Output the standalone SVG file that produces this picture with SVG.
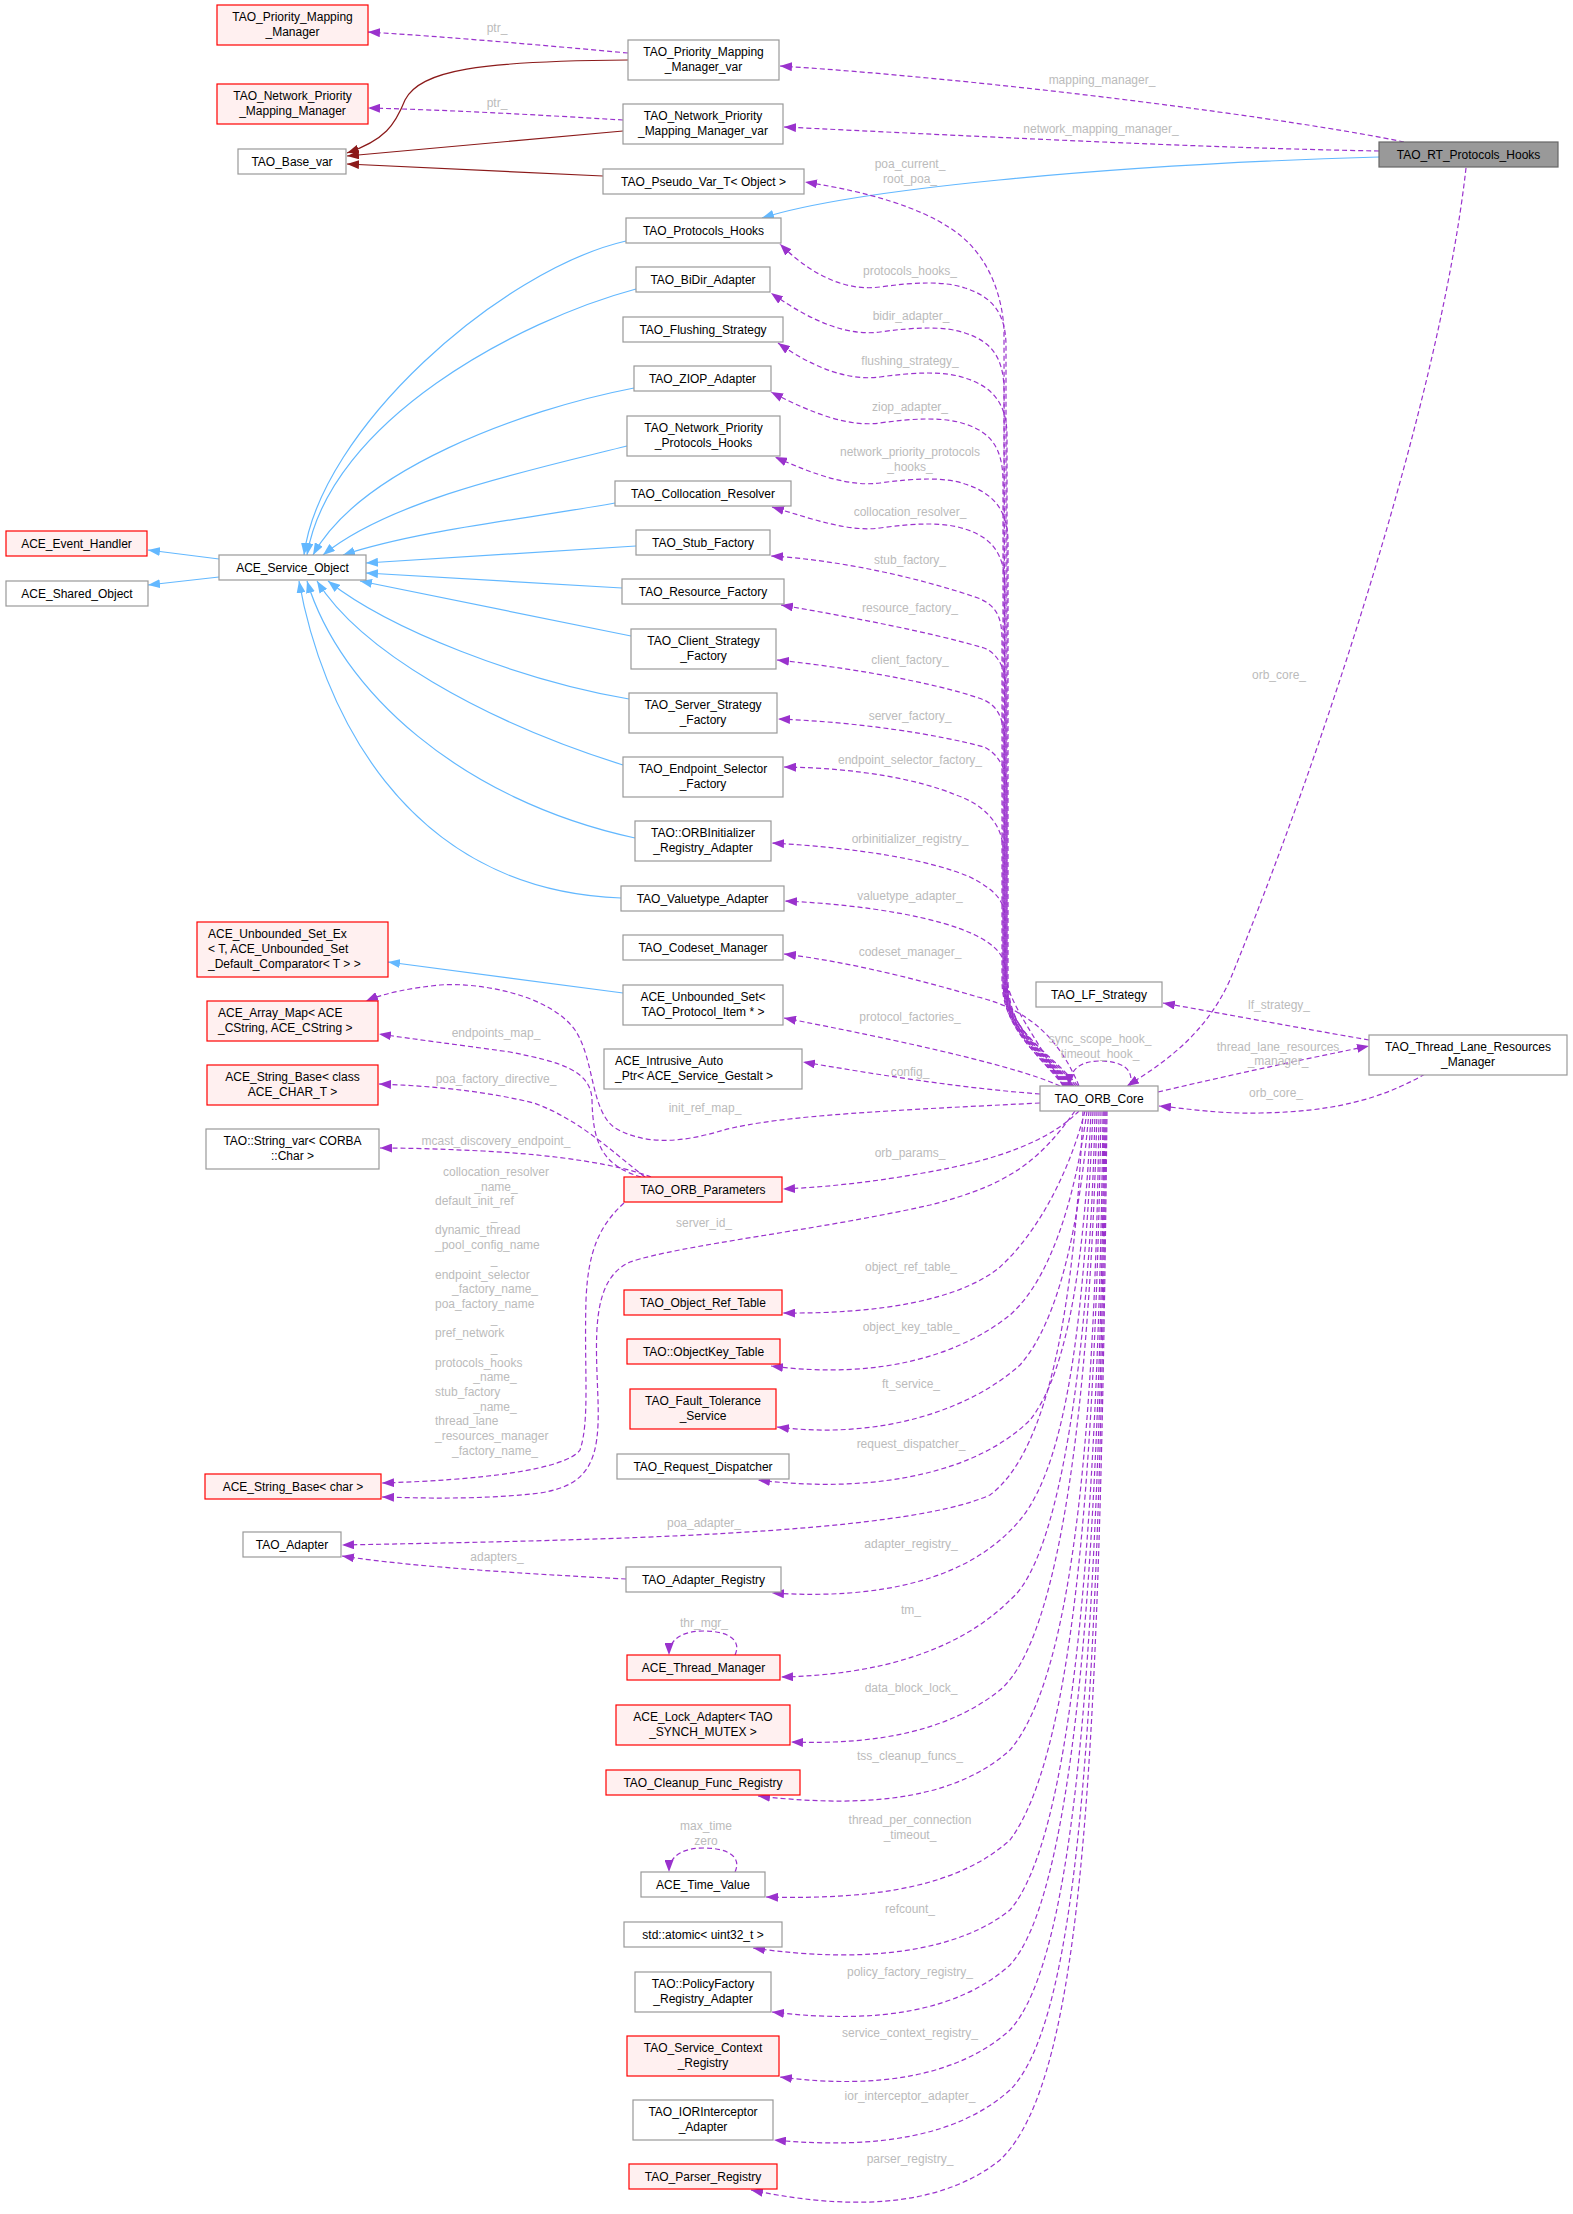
<svg xmlns="http://www.w3.org/2000/svg" width="1573" height="2214" viewBox="0 0 1573 2214">
<style>
text{font-family:"Liberation Sans",Arial,sans-serif;font-size:12px}
.n rect{fill:#fff;stroke:#999;stroke-width:1.2}
.r rect{fill:#fff0f0;stroke:#f00;stroke-width:1.2}
.n text,.r text{text-anchor:middle;fill:#000}
.n text.s,.r text.s{text-anchor:start}
.l{fill:#bbb;text-anchor:middle}
.ls{fill:#bbb;text-anchor:start}
.u{fill:none;stroke:#9a32cd;stroke-width:1.2;stroke-dasharray:5,3;marker-end:url(#ap)}
.i{fill:none;stroke:#63b8ff;stroke-width:1.2;marker-end:url(#ab)}
.t{fill:none;stroke:#8b1a1a;stroke-width:1.2;marker-end:url(#ar)}
</style>
<defs>
<marker id="ap" viewBox="0 0 12 9" refX="12" refY="4.5" markerWidth="12" markerHeight="9" markerUnits="userSpaceOnUse" orient="auto"><path d="M0,0 L12,4.5 L0,9 z" fill="#9a32cd"/></marker>
<marker id="ab" viewBox="0 0 12 9" refX="12" refY="4.5" markerWidth="12" markerHeight="9" markerUnits="userSpaceOnUse" orient="auto"><path d="M0,0 L12,4.5 L0,9 z" fill="#63b8ff"/></marker>
<marker id="ar" viewBox="0 0 12 9" refX="12" refY="4.5" markerWidth="12" markerHeight="9" markerUnits="userSpaceOnUse" orient="auto"><path d="M0,0 L12,4.5 L0,9 z" fill="#8b1a1a"/></marker>
</defs>
<rect width="1573" height="2214" fill="#fff"/>
<g id="connectors">
<path class="t" d="M628,60 C480,61 420,70 405,100 C395,125 385,140 347,153"/>
<path class="t" d="M623,131 L347,156"/>
<path class="t" d="M603,176 L347,164"/>
<path class="i" d="M219,559 L148,550"/>
<path class="i" d="M219,577 L148,585"/>
<path class="i" d="M626,241 C500,270 320,430 304,555"/>
<path class="i" d="M636,289 C520,320 330,420 307,555"/>
<path class="i" d="M634,388 C520,410 360,470 313,555"/>
<path class="i" d="M627,446 C530,470 390,500 323,555"/>
<path class="i" d="M615,503 C520,520 420,530 343,555"/>
<path class="i" d="M636,546 L366,563"/>
<path class="i" d="M622,588 L366,573"/>
<path class="i" d="M631,636 L360,581"/>
<path class="i" d="M629,699 C520,680 390,630 328,581"/>
<path class="i" d="M623,765 C480,720 360,650 317,581"/>
<path class="i" d="M635,838 C460,800 340,690 307,581"/>
<path class="i" d="M621,898 C400,890 320,700 299,581"/>
<path class="i" d="M623,993 L388,962"/>
<path class="i" d="M1379,157 C1100,165 850,190 762,218"/>
<path class="u" d="M628,53 C540,45 450,37 368,32"/>
<path class="u" d="M623,120 C540,115 450,110 368,108"/>
<path class="u" d="M1404,142 C1300,120 1000,80 780,66"/>
<path class="u" d="M1379,151 C1200,148 950,135 784,127"/>
<path class="u" d="M1466,168 C1440,400 1320,760 1230,980 C1205,1035 1165,1062 1127,1086"/>
<path class="u" d="M1078,1086 C1048,1050 1005,1030 1005,980 L1004,330 C1002,290 985,250 950,228 C920,208 870,192 805,182"/>
<path class="u" d="M1076,1086 C1046,1050 1006,1030 1006,980 L1006,346 C1006,311 990,296 965,288 C945,281 915,282 880,287 C850,291 815,279 780,244"/>
<path class="u" d="M1074,1086 C1044,1050 1004,1030 1004,980 L1004,391 C1004,356 990,341 965,333 C945,326 915,327 880,332 C850,336 815,324 771,293"/>
<path class="u" d="M1073,1086 C1043,1050 1007,1030 1007,980 L1007,436 C1007,401 990,386 965,378 C945,371 915,372 880,377 C850,381 815,369 778,343"/>
<path class="u" d="M1072,1086 C1042,1050 1003,1030 1003,980 L1003,482 C1003,447 990,432 965,424 C945,417 915,418 880,423 C850,427 815,415 771,392"/>
<path class="u" d="M1071,1086 C1041,1050 1008,1030 1008,980 L1008,542 C1008,507 990,492 965,484 C945,477 915,478 880,483 C850,487 815,475 775,457"/>
<path class="u" d="M1070,1086 C1040,1050 1005,1030 1005,980 L1005,587 C1005,552 990,537 965,529 C945,522 915,523 880,528 C850,532 815,520 772,507"/>
<path class="u" d="M1069,1086 C1039,1050 1002,1030 1002,980 L1002,640 C1002,615 995,605 978,598 C920,578 840,560 771,556"/>
<path class="u" d="M1068,1086 C1038,1050 1006,1030 1006,980 L1006,690 C1006,665 995,652 984,648 C930,632 850,617 781,605"/>
<path class="u" d="M1067,1086 C1037,1050 1004,1030 1004,980 L1004,740 C1004,715 995,705 984,700 C950,687 870,670 777,660"/>
<path class="u" d="M1066,1086 C1036,1050 1007,1030 1007,980 L1007,790 C1007,765 995,752 984,747 C940,735 860,722 778,719"/>
<path class="u" d="M1065,1086 C1035,1050 1003,1030 1003,980 L1003,850 C1003,825 985,805 956,795 C920,780 860,768 784,767"/>
<path class="u" d="M1064,1086 C1034,1050 1005,1030 1005,980 L1005,920 C1005,900 995,890 970,877 C930,860 860,848 772,843"/>
<path class="u" d="M1063,1086 C1038,1040 1006,1000 1006,975 C1006,955 995,945 975,935 C940,918 870,905 785,901"/>
<path class="u" d="M1079,1086 C1060,1040 1030,1010 978,997 C920,980 850,962 784,954"/>
<path class="u" d="M1060,1086 C1030,1072 950,1050 784,1018"/>
<path class="u" d="M1040,1094 C960,1088 880,1075 803,1062"/>
<path class="u" d="M1040,1103 C900,1110 780,1115 724,1130 C690,1140 650,1148 615,1128 C590,1110 595,1060 575,1030 C550,995 480,982 440,985 C410,988 385,993 366,1001"/>
<path class="u" d="M641,1177 C600,1165 593,1140 592,1100 C591,1070 560,1062 510,1052 C460,1045 420,1040 379,1034"/>
<path class="u" d="M645,1177 C610,1150 580,1120 534,1103 C480,1090 430,1086 379,1084"/>
<path class="u" d="M651,1177 C620,1165 560,1155 483,1151 C440,1149 410,1148 380,1148"/>
<path class="u" d="M624,1203 C600,1225 588,1250 586,1300 C584,1370 590,1420 580,1450 C565,1470 480,1480 382,1483"/>
<path class="u" d="M1075,1111 C1040,1160 1010,1185 930,1205 C820,1230 680,1245 630,1262 C590,1280 596,1340 598,1400 C600,1460 590,1485 540,1493 C480,1500 420,1498 382,1497"/>
<path class="u" d="M1079,1111 C1050,1140 1000,1160 923,1173 C880,1181 830,1187 783,1189"/>
<path class="u" d="M1085,1111 C1070,1170 1040,1230 1000,1267 C960,1300 880,1314 783,1313"/>
<path class="u" d="M1087,1111 C1075,1200 1050,1280 1010,1315 C960,1355 880,1380 771,1366"/>
<path class="u" d="M1089,1111 C1080,1220 1060,1320 1020,1365 C970,1410 880,1440 777,1427"/>
<path class="u" d="M1091,1111 C1085,1250 1070,1370 1030,1420 C980,1470 880,1495 758,1480"/>
<path class="u" d="M1083,1111 C1075,1300 1050,1450 990,1495 C900,1535 600,1540 342,1545"/>
<path class="u" d="M626,1579 C550,1575 420,1568 342,1556"/>
<path class="u" d="M1093,1111 C1085,1300 1070,1460 1020,1520 C970,1580 880,1600 772,1593"/>
<path class="u" d="M1095,1111 C1090,1350 1060,1560 1010,1600 C960,1650 880,1675 781,1677"/>
<path class="u" d="M1097,1111 C1090,1400 1060,1640 1000,1690 C950,1730 880,1745 791,1742"/>
<path class="u" d="M1099,1111 C1095,1450 1070,1680 1010,1750 C960,1795 880,1810 758,1796"/>
<path class="u" d="M1101,1111 C1095,1500 1070,1760 1010,1840 C960,1885 880,1900 766,1897"/>
<path class="u" d="M1103,1111 C1098,1550 1070,1840 1010,1910 C960,1950 870,1965 753,1948"/>
<path class="u" d="M1104,1111 C1100,1600 1070,1900 1010,1965 C960,2010 880,2025 772,2012"/>
<path class="u" d="M1105,1111 C1100,1650 1075,1960 1010,2030 C960,2075 880,2090 780,2077"/>
<path class="u" d="M1106,1111 C1100,1700 1080,2020 1010,2090 C960,2135 880,2150 774,2140"/>
<path class="u" d="M1107,1111 C1100,1750 1085,2080 1000,2160 C950,2200 870,2215 751,2190"/>
<path class="u" d="M1130,1086 C1135,1068 1120,1061 1100,1061 C1082,1061 1070,1068 1069,1086"/>
<path class="u" d="M735,1655 C742,1640 728,1631 704,1631 C684,1631 669,1638 669,1655"/>
<path class="u" d="M735,1872 C742,1857 728,1848 704,1848 C684,1848 669,1855 669,1872"/>
<path class="u" d="M1369,1040 C1300,1028 1230,1015 1163,1003"/>
<path class="u" d="M1158,1092 C1230,1075 1300,1060 1369,1046"/>
<path class="u" d="M1425,1074 C1380,1100 1330,1112 1260,1113 C1220,1114 1190,1109 1159,1106"/>
</g>
<g id="labels">
<text class="l" x="497" y="32">ptr_</text>
<text class="l" x="497" y="107">ptr_</text>
<text class="l" x="1102" y="84">mapping_manager_</text>
<text class="l" x="1101" y="133">network_mapping_manager_</text>
<text class="l" x="910" y="168">poa_current_</text>
<text class="l" x="910" y="183">root_poa_</text>
<text class="l" x="910" y="275">protocols_hooks_</text>
<text class="l" x="911" y="320">bidir_adapter_</text>
<text class="l" x="910" y="365">flushing_strategy_</text>
<text class="l" x="910" y="411">ziop_adapter_</text>
<text class="l" x="910" y="456">network_priority_protocols</text>
<text class="l" x="910" y="471">_hooks_</text>
<text class="l" x="910" y="516">collocation_resolver_</text>
<text class="l" x="910" y="564">stub_factory_</text>
<text class="l" x="910" y="612">resource_factory_</text>
<text class="l" x="910" y="664">client_factory_</text>
<text class="l" x="910" y="720">server_factory_</text>
<text class="l" x="910" y="764">endpoint_selector_factory_</text>
<text class="l" x="910" y="843">orbinitializer_registry_</text>
<text class="l" x="910" y="900">valuetype_adapter_</text>
<text class="l" x="910" y="956">codeset_manager_</text>
<text class="l" x="910" y="1021">protocol_factories_</text>
<text class="l" x="910" y="1076">config_</text>
<text class="l" x="1279" y="679">orb_core_</text>
<text class="l" x="1279" y="1009">lf_strategy_</text>
<text class="l" x="1278" y="1051">thread_lane_resources</text>
<text class="l" x="1278" y="1065">_manager_</text>
<text class="l" x="1276" y="1097">orb_core_</text>
<text class="l" x="1100" y="1043">sync_scope_hook_</text>
<text class="l" x="1100" y="1058">timeout_hook_</text>
<text class="l" x="496" y="1037">endpoints_map_</text>
<text class="l" x="496" y="1083">poa_factory_directive_</text>
<text class="l" x="705" y="1112">init_ref_map_</text>
<text class="l" x="496" y="1145">mcast_discovery_endpoint_</text>
<text class="l" x="496" y="1176">collocation_resolver</text>
<text class="l" x="496" y="1191">_name_</text>
<text class="ls" x="435" y="1205">default_init_ref</text>
<text class="l" x="494" y="1220">_</text>
<text class="ls" x="435" y="1234">dynamic_thread</text>
<text class="ls" x="435" y="1249">_pool_config_name</text>
<text class="l" x="494" y="1264">_</text>
<text class="ls" x="435" y="1279">endpoint_selector</text>
<text class="l" x="495" y="1293">_factory_name_</text>
<text class="ls" x="435" y="1308">poa_factory_name</text>
<text class="l" x="494" y="1323">_</text>
<text class="ls" x="435" y="1337">pref_network</text>
<text class="l" x="494" y="1352">_</text>
<text class="ls" x="435" y="1367">protocols_hooks</text>
<text class="l" x="495" y="1381">_name_</text>
<text class="ls" x="435" y="1396">stub_factory</text>
<text class="l" x="495" y="1411">_name_</text>
<text class="ls" x="435" y="1425">thread_lane</text>
<text class="ls" x="435" y="1440">_resources_manager</text>
<text class="l" x="495" y="1455">_factory_name_</text>
<text class="l" x="910" y="1157">orb_params_</text>
<text class="l" x="704" y="1227">server_id_</text>
<text class="l" x="911" y="1271">object_ref_table_</text>
<text class="l" x="911" y="1331">object_key_table_</text>
<text class="l" x="911" y="1388">ft_service_</text>
<text class="l" x="911" y="1448">request_dispatcher_</text>
<text class="l" x="704" y="1527">poa_adapter_</text>
<text class="l" x="497" y="1561">adapters_</text>
<text class="l" x="911" y="1548">adapter_registry_</text>
<text class="l" x="704" y="1627">thr_mgr_</text>
<text class="l" x="911" y="1614">tm_</text>
<text class="l" x="911" y="1692">data_block_lock_</text>
<text class="l" x="910" y="1760">tss_cleanup_funcs_</text>
<text class="l" x="706" y="1830">max_time</text>
<text class="l" x="706" y="1845">zero</text>
<text class="l" x="910" y="1824">thread_per_connection</text>
<text class="l" x="910" y="1839">_timeout_</text>
<text class="l" x="910" y="1913">refcount_</text>
<text class="l" x="910" y="1976">policy_factory_registry_</text>
<text class="l" x="910" y="2037">service_context_registry_</text>
<text class="l" x="910" y="2100">ior_interceptor_adapter_</text>
<text class="l" x="910" y="2163">parser_registry_</text>
</g>
<g id="n_rt_protocols_hooks" class="n"><rect x="1379" y="142" width="179" height="25" style="fill:#999;stroke:#666"/><text x="1468.5" y="158.5">TAO_RT_Protocols_Hooks</text></g>
<g id="n_priority_mapping_manager" class="r"><rect x="217" y="5" width="151" height="40"/><text x="292.5" y="21">TAO_Priority_Mapping</text><text x="292.5" y="36">_Manager</text></g>
<g id="n_network_priority_mapping_manager" class="r"><rect x="217" y="84" width="151" height="40"/><text x="292.5" y="100">TAO_Network_Priority</text><text x="292.5" y="115">_Mapping_Manager</text></g>
<g id="n_base_var" class="n"><rect x="238" y="149" width="108" height="25"/><text x="292" y="165.5">TAO_Base_var</text></g>
<g id="n_priority_mapping_manager_var" class="n"><rect x="628" y="40" width="151" height="40"/><text x="703.5" y="56">TAO_Priority_Mapping</text><text x="703.5" y="71">_Manager_var</text></g>
<g id="n_network_priority_mapping_manager_var" class="n"><rect x="623" y="104" width="160" height="40"/><text x="703" y="120">TAO_Network_Priority</text><text x="703" y="135">_Mapping_Manager_var</text></g>
<g id="n_pseudo_var" class="n"><rect x="603" y="169" width="201" height="25"/><text x="703.5" y="185.5">TAO_Pseudo_Var_T&lt; Object &gt;</text></g>
<g id="n_protocols_hooks" class="n"><rect x="626" y="218" width="155" height="25"/><text x="703.5" y="234.5">TAO_Protocols_Hooks</text></g>
<g id="n_bidir_adapter" class="n"><rect x="636" y="267" width="134" height="25"/><text x="703" y="283.5">TAO_BiDir_Adapter</text></g>
<g id="n_flushing_strategy" class="n"><rect x="623" y="317" width="160" height="25"/><text x="703" y="333.5">TAO_Flushing_Strategy</text></g>
<g id="n_ziop_adapter" class="n"><rect x="634" y="366" width="137" height="25"/><text x="702.5" y="382.5">TAO_ZIOP_Adapter</text></g>
<g id="n_network_priority_protocols_hooks" class="n"><rect x="627" y="416" width="153" height="40"/><text x="703.5" y="432">TAO_Network_Priority</text><text x="703.5" y="447">_Protocols_Hooks</text></g>
<g id="n_collocation_resolver" class="n"><rect x="615" y="481" width="176" height="25"/><text x="703" y="497.5">TAO_Collocation_Resolver</text></g>
<g id="n_stub_factory" class="n"><rect x="636" y="530" width="134" height="25"/><text x="703" y="546.5">TAO_Stub_Factory</text></g>
<g id="n_resource_factory" class="n"><rect x="622" y="579" width="162" height="25"/><text x="703" y="595.5">TAO_Resource_Factory</text></g>
<g id="n_client_strategy_factory" class="n"><rect x="631" y="629" width="145" height="40"/><text x="703.5" y="645">TAO_Client_Strategy</text><text x="703.5" y="660">_Factory</text></g>
<g id="n_server_strategy_factory" class="n"><rect x="629" y="693" width="148" height="40"/><text x="703" y="709">TAO_Server_Strategy</text><text x="703" y="724">_Factory</text></g>
<g id="n_endpoint_selector_factory" class="n"><rect x="623" y="757" width="160" height="40"/><text x="703" y="773">TAO_Endpoint_Selector</text><text x="703" y="788">_Factory</text></g>
<g id="n_orbinitializer_registry_adapter" class="n"><rect x="635" y="821" width="136" height="40"/><text x="703" y="837">TAO::ORBInitializer</text><text x="703" y="852">_Registry_Adapter</text></g>
<g id="n_valuetype_adapter" class="n"><rect x="621" y="886" width="163" height="25"/><text x="702.5" y="902.5">TAO_Valuetype_Adapter</text></g>
<g id="n_codeset_manager" class="n"><rect x="623" y="935" width="160" height="25"/><text x="703" y="951.5">TAO_Codeset_Manager</text></g>
<g id="n_unbounded_set" class="n"><rect x="623" y="985" width="160" height="40"/><text x="703" y="1001">ACE_Unbounded_Set&lt;</text><text x="703" y="1016">TAO_Protocol_Item * &gt;</text></g>
<g id="n_intrusive_auto_ptr" class="n"><rect x="604" y="1049" width="198" height="40"/><text class="s" x="615" y="1065">ACE_Intrusive_Auto</text><text class="s" x="615" y="1080">_Ptr&lt; ACE_Service_Gestalt &gt;</text></g>
<g id="n_lf_strategy" class="n"><rect x="1036" y="982" width="126" height="25"/><text x="1099" y="998.5">TAO_LF_Strategy</text></g>
<g id="n_thread_lane_resources_manager" class="n"><rect x="1369" y="1035" width="198" height="40"/><text x="1468" y="1051">TAO_Thread_Lane_Resources</text><text x="1468" y="1066">_Manager</text></g>
<g id="n_orb_core" class="n"><rect x="1040" y="1086" width="118" height="25"/><text x="1099" y="1102.5">TAO_ORB_Core</text></g>
<g id="n_event_handler" class="r"><rect x="6" y="531" width="141" height="25"/><text x="76.5" y="547.5">ACE_Event_Handler</text></g>
<g id="n_shared_object" class="n"><rect x="6" y="581" width="142" height="25"/><text x="77" y="597.5">ACE_Shared_Object</text></g>
<g id="n_service_object" class="n"><rect x="219" y="555" width="147" height="25"/><text x="292.5" y="571.5">ACE_Service_Object</text></g>
<g id="n_unbounded_set_ex" class="r"><rect x="197" y="922" width="191" height="55"/><text class="s" x="208" y="938">ACE_Unbounded_Set_Ex</text><text class="s" x="208" y="953">&lt; T, ACE_Unbounded_Set</text><text class="s" x="208" y="968">_Default_Comparator&lt; T &gt; &gt;</text></g>
<g id="n_array_map" class="r"><rect x="207" y="1001" width="171" height="40"/><text class="s" x="218" y="1017">ACE_Array_Map&lt; ACE</text><text class="s" x="218" y="1032">_CString, ACE_CString &gt;</text></g>
<g id="n_string_base_class" class="r"><rect x="207" y="1065" width="171" height="40"/><text x="292.5" y="1081">ACE_String_Base&lt; class</text><text x="292.5" y="1096">ACE_CHAR_T &gt;</text></g>
<g id="n_string_var" class="n"><rect x="206" y="1129" width="173" height="40"/><text x="292.5" y="1145">TAO::String_var&lt; CORBA</text><text x="292.5" y="1160">::Char &gt;</text></g>
<g id="n_orb_parameters" class="r"><rect x="624" y="1177" width="158" height="25"/><text x="703" y="1193.5">TAO_ORB_Parameters</text></g>
<g id="n_object_ref_table" class="r"><rect x="624" y="1290" width="158" height="25"/><text x="703" y="1306.5">TAO_Object_Ref_Table</text></g>
<g id="n_objectkey_table" class="r"><rect x="627" y="1339" width="153" height="25"/><text x="703.5" y="1355.5">TAO::ObjectKey_Table</text></g>
<g id="n_fault_tolerance_service" class="r"><rect x="630" y="1389" width="146" height="40"/><text x="703" y="1405">TAO_Fault_Tolerance</text><text x="703" y="1420">_Service</text></g>
<g id="n_request_dispatcher" class="n"><rect x="617" y="1454" width="172" height="25"/><text x="703" y="1470.5">TAO_Request_Dispatcher</text></g>
<g id="n_string_base_char" class="r"><rect x="205" y="1474" width="176" height="25"/><text x="293" y="1490.5">ACE_String_Base&lt; char &gt;</text></g>
<g id="n_adapter" class="n"><rect x="243" y="1532" width="98" height="25"/><text x="292" y="1548.5">TAO_Adapter</text></g>
<g id="n_adapter_registry" class="n"><rect x="626" y="1567" width="155" height="25"/><text x="703.5" y="1583.5">TAO_Adapter_Registry</text></g>
<g id="n_thread_manager" class="r"><rect x="627" y="1655" width="153" height="25"/><text x="703.5" y="1671.5">ACE_Thread_Manager</text></g>
<g id="n_lock_adapter" class="r"><rect x="616" y="1705" width="174" height="40"/><text x="703" y="1721">ACE_Lock_Adapter&lt; TAO</text><text x="703" y="1736">_SYNCH_MUTEX &gt;</text></g>
<g id="n_cleanup_func_registry" class="r"><rect x="606" y="1770" width="194" height="25"/><text x="703" y="1786.5">TAO_Cleanup_Func_Registry</text></g>
<g id="n_time_value" class="n"><rect x="641" y="1872" width="124" height="25"/><text x="703" y="1888.5">ACE_Time_Value</text></g>
<g id="n_atomic" class="n"><rect x="624" y="1922" width="158" height="25"/><text x="703" y="1938.5">std::atomic&lt; uint32_t &gt;</text></g>
<g id="n_policyfactory_registry_adapter" class="n"><rect x="635" y="1972" width="136" height="40"/><text x="703" y="1988">TAO::PolicyFactory</text><text x="703" y="2003">_Registry_Adapter</text></g>
<g id="n_service_context_registry" class="r"><rect x="627" y="2036" width="152" height="40"/><text x="703" y="2052">TAO_Service_Context</text><text x="703" y="2067">_Registry</text></g>
<g id="n_iorinterceptor_adapter" class="n"><rect x="633" y="2100" width="140" height="40"/><text x="703" y="2116">TAO_IORInterceptor</text><text x="703" y="2131">_Adapter</text></g>
<g id="n_parser_registry" class="r"><rect x="629" y="2164" width="148" height="25"/><text x="703" y="2180.5">TAO_Parser_Registry</text></g>
</svg>
